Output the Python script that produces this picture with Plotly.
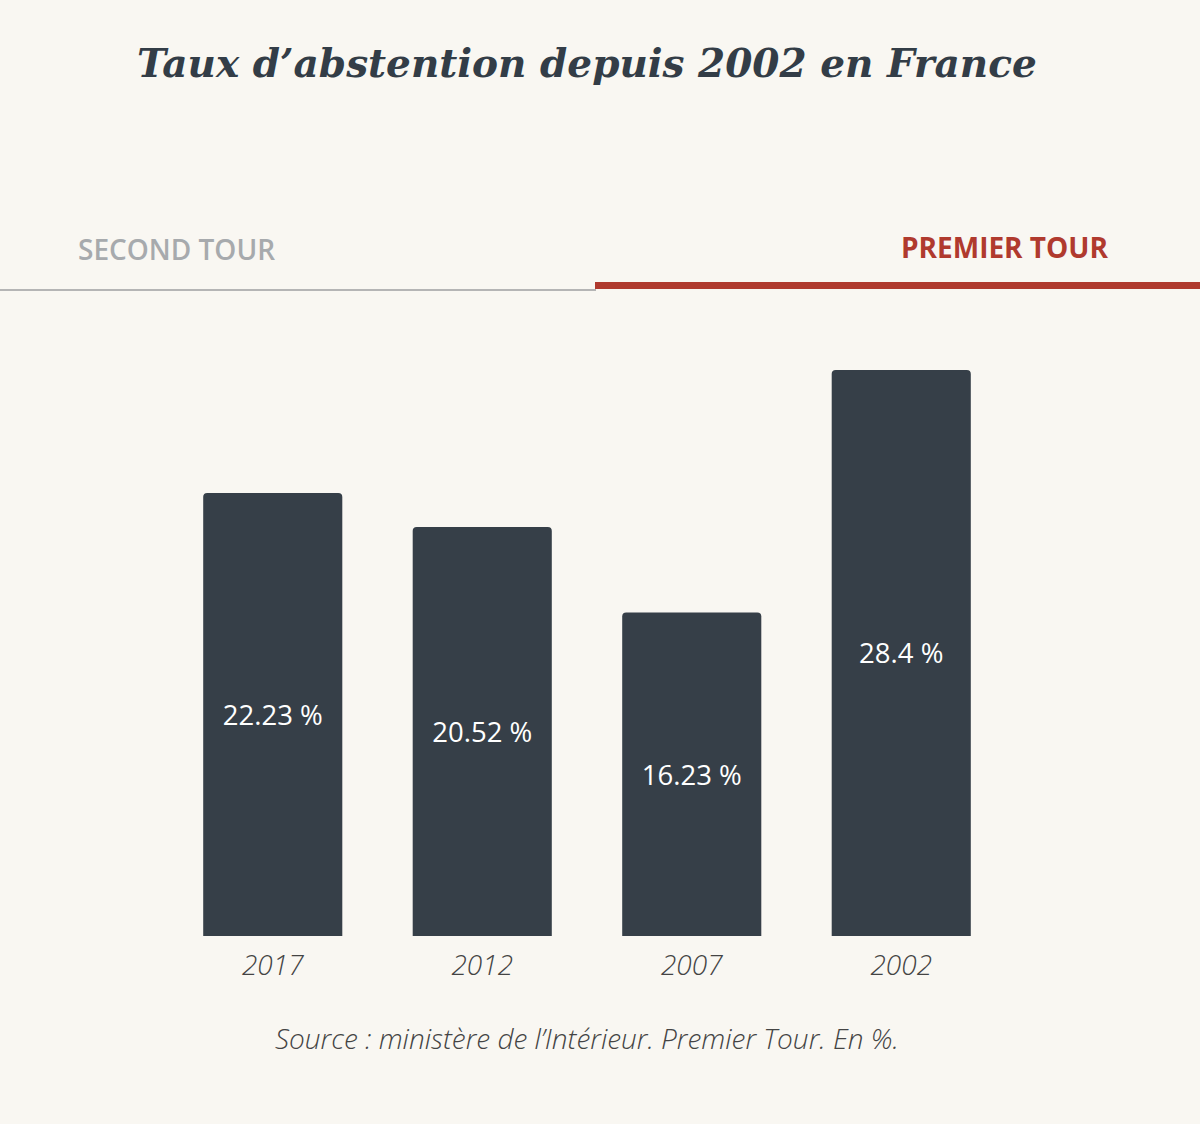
import plotly.graph_objects as go

years = ["2017", "2012", "2007", "2002"]
abstention = [22.23, 20.52, 16.23, 28.4]
labels = [f"{v} %" for v in abstention]

title_text = "Taux d’abstention depuis 2002 en France"
tab_left = "SECOND TOUR"
tab_right = "PREMIER TOUR"
source_text = "Source : ministère de l’Intérieur. Premier Tour. En %."

BG = "#f9f7f2"
BAR = "#363f48"
RED = "#b03a2e"
GREY_TAB = "#a7aaad"
DARK = "#333d47"

W, H = 1200, 1124
L, R, T, B = 168, 194, 338, 188
PW = W - L - R
PH = H - T - B


def px_x(p):
    return (p - L) / PW


def px_y(p):
    return (H - B - p) / PH


fig = go.Figure(go.Bar(
    x=years,
    y=abstention,
    text=labels,
    textposition="inside",
    insidetextanchor="middle",
    textfont=dict(family="Open Sans", size=27.5, color="white"),
    marker=dict(color=BAR, line=dict(width=0)),
    hoverinfo="skip",
))

fig.update_layout(
    width=W, height=H,
    paper_bgcolor=BG, plot_bgcolor=BG,
    margin=dict(l=L, r=R, t=T, b=B, pad=0),
    bargap=0.336,
    barcornerradius=4,
    showlegend=False,
    xaxis=dict(
        showgrid=False, zeroline=False, showline=False,
        ticks="", ticklen=0, fixedrange=True,
        tickfont=dict(family="Open Sans", size=28, color="#444", style="italic", weight=300),
    ),
    yaxis=dict(range=[0, 30], visible=False, showgrid=False, zeroline=False, fixedrange=True),
    uniformtext=dict(mode=False),
)

fig.update_xaxes(ticklabelstandoff=10)

fig.add_annotation(
    text=title_text, xref="paper", yref="paper",
    x=px_x(587), y=px_y(63), xanchor="center", yanchor="middle",
    showarrow=False,
    font=dict(family="DejaVu Serif", size=39, color=DARK, style="italic", weight="bold"),
)
fig.add_annotation(
    text=tab_left, xref="paper", yref="paper",
    x=px_x(176), y=px_y(249), xanchor="center", yanchor="middle",
    showarrow=False,
    font=dict(family="Open Sans", size=28, color=GREY_TAB, weight=600),
)
fig.add_annotation(
    text=tab_right, xref="paper", yref="paper",
    x=px_x(1005), y=px_y(247), xanchor="center", yanchor="middle",
    showarrow=False,
    font=dict(family="Open Sans", size=28, color=RED, weight=700),
)
fig.add_annotation(
    text=source_text, xref="paper", yref="paper",
    x=px_x(587), y=px_y(1038), xanchor="center", yanchor="middle",
    showarrow=False,
    font=dict(family="Open Sans", size=28, color="#444", style="italic", weight=300),
)

fig.add_shape(type="line", xref="paper", yref="paper",
              x0=px_x(0), x1=px_x(596), y0=px_y(290), y1=px_y(290),
              line=dict(color="#b5b5b5", width=2))
fig.add_shape(type="line", xref="paper", yref="paper",
              x0=px_x(595), x1=px_x(1200), y0=px_y(285.5), y1=px_y(285.5),
              line=dict(color=RED, width=7))

fig.write_html(
    "out.html",
    config={"displayModeBar": False},
    post_script="document.body.style.margin='0';document.body.style.background='" + BG + "';",
)
